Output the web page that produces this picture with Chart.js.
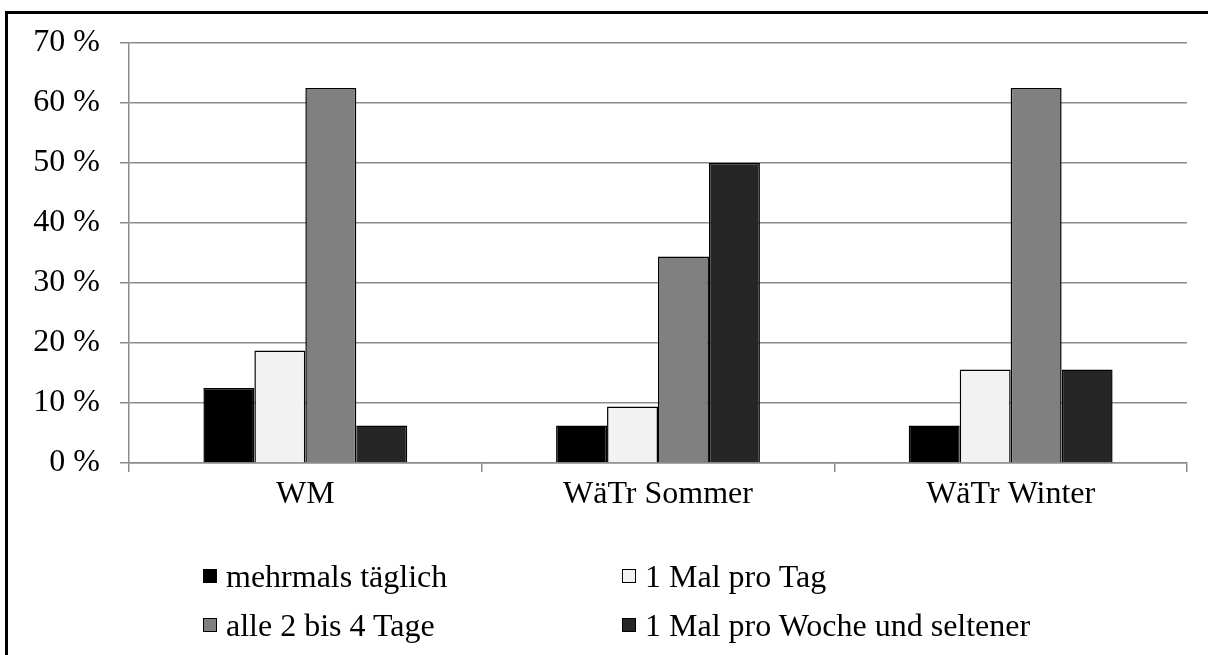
<!DOCTYPE html>
<html>
<head>
<meta charset="utf-8">
<script src="https://cdn.jsdelivr.net/npm/chart.js@4"></script>
<style>
  body { margin: 0; background: #fff; }
  #wrap { position: relative; width: 1208px; height: 655px; overflow: hidden; }
  #frame { position: absolute; left: 5px; top: 11px; right: -10px; bottom: -10px;
           border-left: 3px solid #000; border-top: 3px solid #000; }
  canvas { position: absolute; left: 0; top: 0; }
  .item { position: absolute; font-family: 'Liberation Serif', 'Times New Roman', serif;
          font-size: 32px; line-height: 32px; color: #000; white-space: nowrap; }
  .box { position: absolute; width: 12px; height: 12px; border: 1px solid #000; }
</style>
</head>
<body>
<div id="wrap">
  <div id="frame"></div>
  <canvas id="chart" width="1208" height="655"></canvas>
  <div id="legend"></div>
</div>
<script>
// categories and series
const categories = ['WM', 'WäTr Sommer', 'WäTr Winter'];
const seriesNames = ['mehrmals täglich', '1 Mal pro Tag', 'alle 2 bis 4 Tage', '1 Mal pro Woche und seltener'];
const seriesColors = ['#000000', '#f2f2f2', '#808080', '#262626'];
const mehrmalsTaeglich = [12.5, 6.25, 6.25];
const einMalProTag = [18.75, 9.4, 15.6];
const alle2bis4Tage = [62.5, 34.4, 62.5];
const einMalProWoche = [6.25, 50, 15.6];
const yTicks = [0, 10, 20, 30, 40, 50, 60, 70];

const seriesValues = [mehrmalsTaeglich, einMalProTag, alle2bis4Tage, einMalProWoche];
const serif = 'Liberation Serif';
const gridColor = '#8c8c8c';

new Chart(document.getElementById('chart').getContext('2d'), {
  type: 'bar',
  data: {
    labels: categories,
    datasets: seriesNames.map((name, i) => ({
      label: name,
      data: seriesValues[i],
      backgroundColor: seriesColors[i],
      borderColor: '#000',
      borderWidth: 1.5,
      barPercentage: 1,
      categoryPercentage: 0.578
    }))
  },
  options: {
    responsive: false,
    animation: false,
    layout: { padding: { top: 43, right: 21, bottom: 0, left: 0 } },
    plugins: { legend: { display: false }, tooltip: { enabled: false } },
    scales: {
      x: {
        afterFit: scale => { scale.height = 192; },
        grid: { drawOnChartArea: false, drawTicks: true, tickLength: 9, color: gridColor, lineWidth: 1.5 },
        border: { color: gridColor, width: 1.5 },
        ticks: { color: '#000', font: { family: serif, size: 32 }, padding: 3 }
      },
      y: {
        min: 0,
        max: 70,
        afterFit: scale => { scale.width = 129; },
        afterBuildTicks: scale => { scale.ticks = yTicks.map(v => ({ value: v })); },
        grid: { color: gridColor, lineWidth: 1.5, tickLength: 9 },
        border: { color: gridColor, width: 1.5 },
        ticks: {
          color: '#000',
          font: { family: serif, size: 32 },
          padding: 20,
          callback: v => v + ' %'
        }
      }
    }
  }
});

// legend in two columns
const legend = document.getElementById('legend');
const colX = [203, 622];
const rowY = [569, 618];
seriesNames.forEach((name, i) => {
  const x = colX[i % 2];
  const y = rowY[Math.floor(i / 2)];
  const box = document.createElement('div');
  box.className = 'box';
  box.style.left = x + 'px';
  box.style.top = y + 'px';
  box.style.background = seriesColors[i];
  legend.appendChild(box);
  const txt = document.createElement('div');
  txt.className = 'item';
  txt.style.left = (x + 23) + 'px';
  txt.style.top = (y - 9) + 'px';
  txt.textContent = name;
  legend.appendChild(txt);
});
</script>
</body>
</html>
